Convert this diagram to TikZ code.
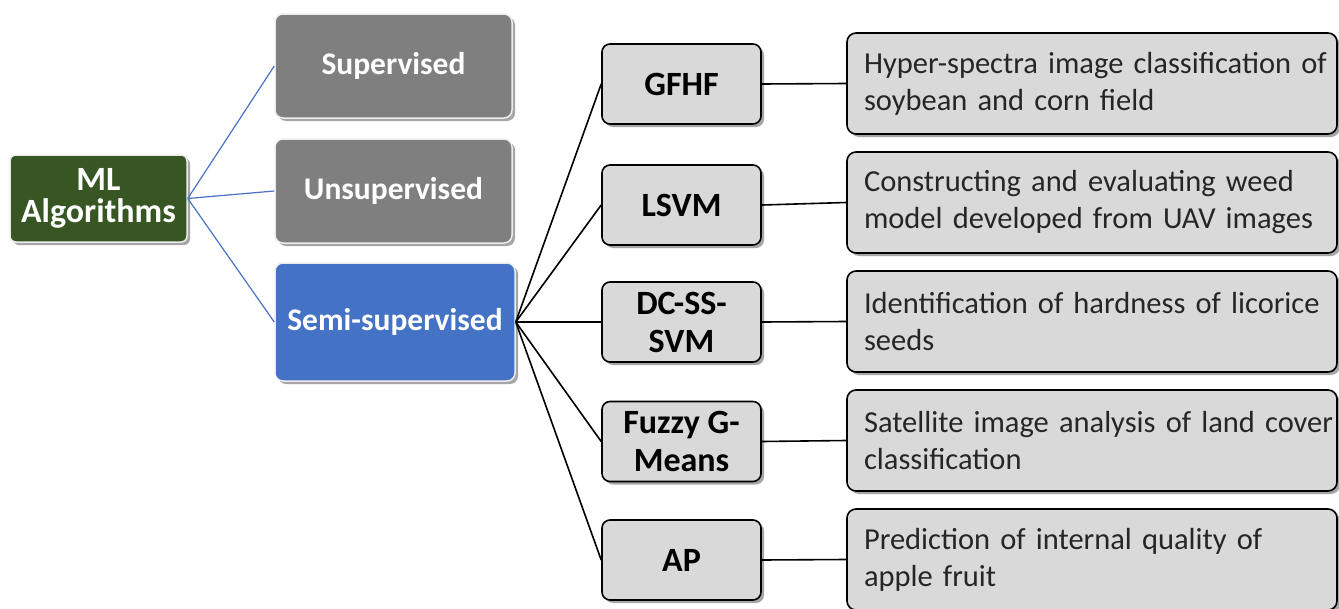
\documentclass[tikz,border=0pt]{standalone}
\usepackage{fontspec}
\setmainfont{Carlito}[WordSpace=0.55,BoldFeatures={WordSpace=1}]
\usetikzlibrary{shadows}
\definecolor{mlgreen}{HTML}{375623}
\definecolor{catgray}{HTML}{7F7F7F}
\definecolor{semiblue}{HTML}{4472C4}
\definecolor{boxfill}{HTML}{D9D9D9}
\definecolor{linkblue}{HTML}{4A72C4}
\newcommand{\apptext}[2]{\mbox{#1}\\\mbox{#2}}
\begin{document}
\begin{tikzpicture}[x=1pt,y=-1pt,
  shade/.style={drop shadow={shadow xshift=3pt,shadow yshift=-3pt,opacity=0.35,fill=black}},
  rootbox/.style={shade,rectangle,rounded corners=6pt,fill=mlgreen,draw=white!85!gray,line width=1.5pt,
    text=white,font=\fontsize{34}{32}\selectfont\bfseries,align=center,minimum width=177pt,minimum height=87pt,inner sep=0pt},
  catbox/.style={shade,rectangle,rounded corners=8pt,fill=catgray,draw=white!85!gray,line width=1.5pt,
    text=white,font=\fontsize{31.5}{32}\selectfont\bfseries,align=center,minimum width=237pt,minimum height=104pt,inner sep=0pt},
  algbox/.style={shade,rectangle,rounded corners=8pt,fill=boxfill,draw=black,line width=1.6pt,
    text=black,font=\fontsize{34}{38}\selectfont\bfseries,align=center,minimum width=159pt,minimum height=80pt,inner sep=0pt},
  appbox/.style={shade,rectangle,rounded corners=9pt,fill=boxfill,draw=black,line width=1.6pt,
    text=black!85,font=\fontsize{30.5}{37}\selectfont,align=left,text width=456pt,minimum width=490pt,minimum height=101pt,inner xsep=17pt,inner ysep=0pt},
  bluelink/.style={draw=linkblue,line width=1.2pt},
  blacklink/.style={draw=black,line width=1.6pt}]
\useasboundingbox (0,0) rectangle (1339,608);

% root and categories
\node[rootbox] (ml) at (98.5,198.5) {ML\\Algorithms};
\node[catbox] (sup) at (393.5,66) {Supervised};
\node[catbox] (unsup) at (393.5,191) {Unsupervised};
\node[catbox,fill=semiblue,minimum width=240pt,minimum height=118pt] (semi) at (395,322) {Semi-supervised};

% semi-supervised algorithms
\node[algbox] (gfhf) at (681.5,84) {GFHF};
\node[algbox] (lsvm) at (681.5,205) {LSVM};
\node[algbox] (dcss) at (681.5,322) {DC-SS-\\SVM};
\node[algbox] (fuzzy) at (681.5,441.5) {Fuzzy G-\\Means};
\node[algbox] (ap) at (681.5,560) {AP};

% applications
\node[appbox] (a1) at (1092,83.5) {\apptext{Hyper-spectra image classification of}{soybean and corn field}};
\node[appbox] (a2) at (1092,202.5) {\apptext{Constructing and evaluating weed}{model developed from UAV images}};
\node[appbox] (a3) at (1092,321.5) {\apptext{Identification of hardness of licorice}{seeds}};
\node[appbox] (a4) at (1092,440.5) {\apptext{Satellite image analysis of land cover}{classification}};
\node[appbox] (a5) at (1092,559.5) {\apptext{Prediction of internal quality of}{apple fruit}};

% connectors
\foreach \c in {sup,unsup,semi} \draw[bluelink] (ml.east) -- (\c.west);
\foreach \c in {gfhf,lsvm,dcss,fuzzy,ap} \draw[blacklink] (semi.east) -- (\c.west);
\draw[blacklink] (gfhf.east) -- (a1.west);
\draw[blacklink] (lsvm.east) -- (a2.west);
\draw[blacklink] (dcss.east) -- (a3.west);
\draw[blacklink] (fuzzy.east) -- (a4.west);
\draw[blacklink] (ap.east) -- (a5.west);
\end{tikzpicture}
\end{document}
